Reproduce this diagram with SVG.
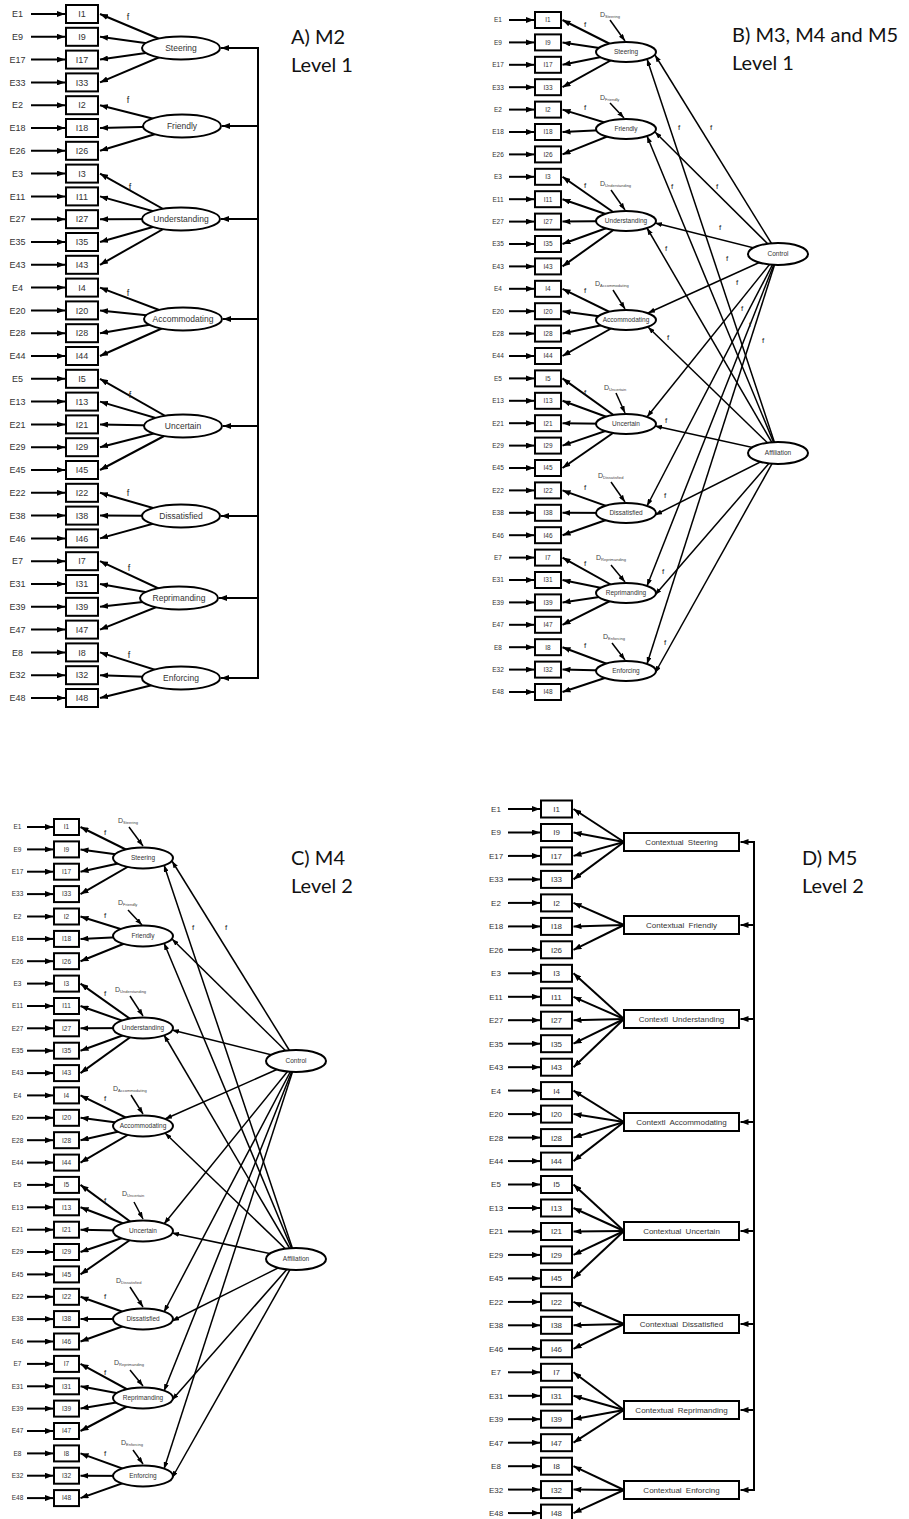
<svg xmlns="http://www.w3.org/2000/svg" width="909" height="1519" viewBox="0 0 909 1519">
<defs>
<style>
.ta{font-family:"Liberation Sans",Arial,sans-serif;font-size:9px;fill:#333;text-anchor:middle}
.tb{font-family:"Liberation Sans",Arial,sans-serif;font-size:6.5px;fill:#333;text-anchor:middle}
.td{font-family:"Liberation Sans",Arial,sans-serif;font-size:8px;fill:#333;text-anchor:middle}
.fa{font-family:"Liberation Sans",Arial,sans-serif;font-size:8.5px;fill:#333;text-anchor:middle}
.fx{font-family:"Liberation Sans",Arial,sans-serif;font-size:8px;fill:#333;text-anchor:middle;word-spacing:2px}
.fl{font-family:"Liberation Sans",Arial,sans-serif;font-size:9px;fill:#222;text-anchor:middle}
.fb{font-family:"Liberation Sans",Arial,sans-serif;font-size:8px;fill:#222;text-anchor:middle}
.dl{font-family:"Liberation Sans",Arial,sans-serif;font-size:7px;fill:#444}
.ttl{font-family:Lato,"Liberation Sans",sans-serif;font-size:20px;fill:#111}
.bx{fill:#fff;stroke:#000;stroke-width:2}
.el{fill:#fff;stroke:#000;stroke-width:2}
.ln{stroke:#000;stroke-width:2;fill:none;marker-end:url(#ah)}
.lt{stroke:#000;stroke-width:1.5;fill:none;marker-end:url(#as)}
.pl{stroke:#000;stroke-width:2;fill:none}
</style>
<marker id="ah" markerUnits="userSpaceOnUse" viewBox="0 0 8 6" markerWidth="8" markerHeight="6" refX="8" refY="3" orient="auto"><path d="M0,0L8,3L0,6z" fill="#000"/></marker>
<marker id="as" markerUnits="userSpaceOnUse" viewBox="0 0 7 5" markerWidth="7" markerHeight="5" refX="7" refY="2.5" orient="auto"><path d="M0,0L7,2.5L0,5z" fill="#000"/></marker>
<rect id="bA" class="bx" x="66" y="-9" width="32" height="18"/>
<rect id="bB" class="bx" x="535" y="-8" width="26" height="16"/>
<rect id="bC" class="bx" x="54" y="-8" width="25" height="16"/>
<rect id="bD" class="bx" x="541" y="-8.5" width="31" height="17"/>
</defs>
<rect width="909" height="1519" fill="#fff"/>

<g id="connectors">
<!-- Panel A -->
<g id="A-connectors">
<path class="ln" d="M31 14H65"/><path class="ln" d="M31 36.8H65"/><path class="ln" d="M31 59.6H65"/><path class="ln" d="M31 82.4H65"/><path class="ln" d="M31 105.2H65"/><path class="ln" d="M31 128H65"/><path class="ln" d="M31 150.8H65"/><path class="ln" d="M31 173.6H65"/><path class="ln" d="M31 196.4H65"/><path class="ln" d="M31 219.2H65"/><path class="ln" d="M31 242H65"/><path class="ln" d="M31 264.8H65"/><path class="ln" d="M31 287.6H65"/><path class="ln" d="M31 310.4H65"/><path class="ln" d="M31 333.2H65"/><path class="ln" d="M31 356H65"/><path class="ln" d="M31 378.8H65"/><path class="ln" d="M31 401.6H65"/><path class="ln" d="M31 424.4H65"/><path class="ln" d="M31 447.2H65"/><path class="ln" d="M31 470H65"/><path class="ln" d="M31 492.8H65"/><path class="ln" d="M31 515.6H65"/><path class="ln" d="M31 538.4H65"/><path class="ln" d="M31 561.2H65"/><path class="ln" d="M31 584H65"/><path class="ln" d="M31 606.8H65"/><path class="ln" d="M31 629.6H65"/><path class="ln" d="M31 652.4H65"/><path class="ln" d="M31 675.2H65"/><path class="ln" d="M31 698H65"/>
<path class="ln" d="M181 48L100 14"/><path class="ln" d="M181 48L100 36.8"/><path class="ln" d="M181 48L100 59.6"/><path class="ln" d="M181 48L100 82.4"/>
<path class="ln" d="M182 126L100 105.2"/><path class="ln" d="M182 126L100 128"/><path class="ln" d="M182 126L100 150.8"/>
<path class="ln" d="M181 219L100 173.6"/><path class="ln" d="M181 219L100 196.4"/><path class="ln" d="M181 219L100 219.2"/><path class="ln" d="M181 219L100 242"/><path class="ln" d="M181 219L100 264.8"/>
<path class="ln" d="M183 319L100 287.6"/><path class="ln" d="M183 319L100 310.4"/><path class="ln" d="M183 319L100 333.2"/><path class="ln" d="M183 319L100 356"/>
<path class="ln" d="M183 426L100 378.8"/><path class="ln" d="M183 426L100 401.6"/><path class="ln" d="M183 426L100 424.4"/><path class="ln" d="M183 426L100 447.2"/><path class="ln" d="M183 426L100 470"/>
<path class="ln" d="M181 516L100 492.8"/><path class="ln" d="M181 516L100 515.6"/><path class="ln" d="M181 516L100 538.4"/>
<path class="ln" d="M179 598L100 561.2"/><path class="ln" d="M179 598L100 584"/><path class="ln" d="M179 598L100 606.8"/><path class="ln" d="M179 598L100 629.6"/>
<path class="ln" d="M181 678L100 652.4"/><path class="ln" d="M181 678L100 675.2"/><path class="ln" d="M181 678L100 698"/>
<path class="pl" d="M258 47V679"/>
<path class="ln" d="M258 48H221"/><path class="ln" d="M258 126H222"/><path class="ln" d="M258 219H221"/><path class="ln" d="M258 319H223"/><path class="ln" d="M258 426H223"/><path class="ln" d="M258 516H221"/><path class="ln" d="M258 598H219"/><path class="ln" d="M258 678H221"/>
</g>
<!-- Panel B -->
<g id="B-connectors">
<path class="ln" d="M509 20H534"/><path class="ln" d="M509 42.4H534"/><path class="ln" d="M509 64.8H534"/><path class="ln" d="M509 87.2H534"/><path class="ln" d="M509 109.6H534"/><path class="ln" d="M509 132H534"/><path class="ln" d="M509 154.4H534"/><path class="ln" d="M509 176.8H534"/><path class="ln" d="M509 199.2H534"/><path class="ln" d="M509 221.6H534"/><path class="ln" d="M509 244H534"/><path class="ln" d="M509 266.4H534"/><path class="ln" d="M509 288.8H534"/><path class="ln" d="M509 311.2H534"/><path class="ln" d="M509 333.6H534"/><path class="ln" d="M509 356H534"/><path class="ln" d="M509 378.4H534"/><path class="ln" d="M509 400.8H534"/><path class="ln" d="M509 423.2H534"/><path class="ln" d="M509 445.6H534"/><path class="ln" d="M509 468H534"/><path class="ln" d="M509 490.4H534"/><path class="ln" d="M509 512.8H534"/><path class="ln" d="M509 535.2H534"/><path class="ln" d="M509 557.6H534"/><path class="ln" d="M509 580H534"/><path class="ln" d="M509 602.4H534"/><path class="ln" d="M509 624.8H534"/><path class="ln" d="M509 647.2H534"/><path class="ln" d="M509 669.6H534"/><path class="ln" d="M509 692H534"/>
<path class="ln" d="M626 52L562.5 20"/><path class="ln" d="M626 52L562.5 42.4"/><path class="ln" d="M626 52L562.5 64.8"/><path class="ln" d="M626 52L562.5 87.2"/>
<path class="ln" d="M626 129L562.5 109.6"/><path class="ln" d="M626 129L562.5 132"/><path class="ln" d="M626 129L562.5 154.4"/>
<path class="ln" d="M626 221L562.5 176.8"/><path class="ln" d="M626 221L562.5 199.2"/><path class="ln" d="M626 221L562.5 221.6"/><path class="ln" d="M626 221L562.5 244"/><path class="ln" d="M626 221L562.5 266.4"/>
<path class="ln" d="M626 320L562.5 288.8"/><path class="ln" d="M626 320L562.5 311.2"/><path class="ln" d="M626 320L562.5 333.6"/><path class="ln" d="M626 320L562.5 356"/>
<path class="ln" d="M626 424L562.5 378.4"/><path class="ln" d="M626 424L562.5 400.8"/><path class="ln" d="M626 424L562.5 423.2"/><path class="ln" d="M626 424L562.5 445.6"/><path class="ln" d="M626 424L562.5 468"/>
<path class="ln" d="M626 513L562.5 490.4"/><path class="ln" d="M626 513L562.5 512.8"/><path class="ln" d="M626 513L562.5 535.2"/>
<path class="ln" d="M626 593L562.5 557.6"/><path class="ln" d="M626 593L562.5 580"/><path class="ln" d="M626 593L562.5 602.4"/><path class="ln" d="M626 593L562.5 624.8"/>
<path class="ln" d="M626 671L562.5 647.2"/><path class="ln" d="M626 671L562.5 669.6"/><path class="ln" d="M626 671L562.5 692"/>
<path class="lt" d="M778 254L655 55"/><path class="lt" d="M778 254L655 132"/><path class="lt" d="M778 254L655 223"/><path class="lt" d="M778 254L648 313"/><path class="lt" d="M778 254L647 417"/><path class="lt" d="M778 254L647 506"/><path class="lt" d="M778 254L647 586"/><path class="lt" d="M778 254L647 664"/>
<path class="lt" d="M778 453L647 59"/><path class="lt" d="M778 453L647 136"/><path class="lt" d="M778 453L647 228"/><path class="lt" d="M778 453L648 327"/><path class="lt" d="M778 453L655 426"/><path class="lt" d="M778 453L655 515"/><path class="lt" d="M778 453L655 595"/><path class="lt" d="M778 453L655 673"/>
<path class="lt" d="M610 20L625 41"/><path class="lt" d="M610 103L624 118"/><path class="lt" d="M611 190L625 210"/><path class="lt" d="M613 290L625 309"/><path class="lt" d="M616 393L625 413"/><path class="lt" d="M611 482L625 502"/><path class="lt" d="M611 565L625 582"/><path class="lt" d="M612 643L625 660"/>
</g>
<!-- Panel C -->
<g id="C-connectors">
<path class="ln" d="M27 827H53"/><path class="ln" d="M27 849.4H53"/><path class="ln" d="M27 871.7H53"/><path class="ln" d="M27 894.1H53"/><path class="ln" d="M27 916.5H53"/><path class="ln" d="M27 938.9H53"/><path class="ln" d="M27 961.2H53"/><path class="ln" d="M27 983.6H53"/><path class="ln" d="M27 1006H53"/><path class="ln" d="M27 1028.3H53"/><path class="ln" d="M27 1050.7H53"/><path class="ln" d="M27 1073.1H53"/><path class="ln" d="M27 1095.4H53"/><path class="ln" d="M27 1117.8H53"/><path class="ln" d="M27 1140.2H53"/><path class="ln" d="M27 1162.6H53"/><path class="ln" d="M27 1184.9H53"/><path class="ln" d="M27 1207.3H53"/><path class="ln" d="M27 1229.7H53"/><path class="ln" d="M27 1252H53"/><path class="ln" d="M27 1274.4H53"/><path class="ln" d="M27 1296.8H53"/><path class="ln" d="M27 1319.1H53"/><path class="ln" d="M27 1341.5H53"/><path class="ln" d="M27 1363.9H53"/><path class="ln" d="M27 1386.3H53"/><path class="ln" d="M27 1408.6H53"/><path class="ln" d="M27 1431H53"/><path class="ln" d="M27 1453.4H53"/><path class="ln" d="M27 1475.7H53"/><path class="ln" d="M27 1498.1H53"/>
<path class="ln" d="M143 858L80.5 827"/><path class="ln" d="M143 858L80.5 849.4"/><path class="ln" d="M143 858L80.5 871.7"/><path class="ln" d="M143 858L80.5 894.1"/>
<path class="ln" d="M143 936L80.5 916.5"/><path class="ln" d="M143 936L80.5 938.9"/><path class="ln" d="M143 936L80.5 961.2"/>
<path class="ln" d="M143 1028L80.5 983.6"/><path class="ln" d="M143 1028L80.5 1006"/><path class="ln" d="M143 1028L80.5 1028.3"/><path class="ln" d="M143 1028L80.5 1050.7"/><path class="ln" d="M143 1028L80.5 1073.1"/>
<path class="ln" d="M143 1126L80.5 1095.4"/><path class="ln" d="M143 1126L80.5 1117.8"/><path class="ln" d="M143 1126L80.5 1140.2"/><path class="ln" d="M143 1126L80.5 1162.6"/>
<path class="ln" d="M143 1231L80.5 1184.9"/><path class="ln" d="M143 1231L80.5 1207.3"/><path class="ln" d="M143 1231L80.5 1229.7"/><path class="ln" d="M143 1231L80.5 1252"/><path class="ln" d="M143 1231L80.5 1274.4"/>
<path class="ln" d="M143 1319L80.5 1296.8"/><path class="ln" d="M143 1319L80.5 1319.1"/><path class="ln" d="M143 1319L80.5 1341.5"/>
<path class="ln" d="M143 1398L80.5 1363.9"/><path class="ln" d="M143 1398L80.5 1386.3"/><path class="ln" d="M143 1398L80.5 1408.6"/><path class="ln" d="M143 1398L80.5 1431"/>
<path class="ln" d="M143 1476L80.5 1453.4"/><path class="ln" d="M143 1476L80.5 1475.7"/><path class="ln" d="M143 1476L80.5 1498.1"/>
<path class="lt" d="M296 1061L172 861"/><path class="lt" d="M296 1061L172 939"/><path class="lt" d="M296 1061L172 1030"/><path class="lt" d="M296 1061L165 1119"/><path class="lt" d="M296 1061L164 1224"/><path class="lt" d="M296 1061L164 1312"/><path class="lt" d="M296 1061L164 1391"/><path class="lt" d="M296 1061L164 1469"/>
<path class="lt" d="M296 1259L164 865"/><path class="lt" d="M296 1259L164 943"/><path class="lt" d="M296 1259L164 1035"/><path class="lt" d="M296 1259L165 1133"/><path class="lt" d="M296 1259L172 1233"/><path class="lt" d="M296 1259L172 1321"/><path class="lt" d="M296 1259L172 1400"/><path class="lt" d="M296 1259L172 1478"/>
<path class="lt" d="M129 827L143 846"/><path class="lt" d="M128 910L142 925"/><path class="lt" d="M130 996L143 1016"/><path class="lt" d="M131 1095L143 1114"/><path class="lt" d="M134 1202L143 1219"/><path class="lt" d="M130 1287L143 1307"/><path class="lt" d="M130 1370L143 1386"/><path class="lt" d="M133 1450L143 1464"/>
</g>
<!-- Panel D -->
<g id="D-connectors">
<path class="ln" d="M508 809H540"/><path class="ln" d="M508 832.5H540"/><path class="ln" d="M508 855.9H540"/><path class="ln" d="M508 879.4H540"/><path class="ln" d="M508 902.9H540"/><path class="ln" d="M508 926.4H540"/><path class="ln" d="M508 949.8H540"/><path class="ln" d="M508 973.3H540"/><path class="ln" d="M508 996.8H540"/><path class="ln" d="M508 1020.2H540"/><path class="ln" d="M508 1043.7H540"/><path class="ln" d="M508 1067.2H540"/><path class="ln" d="M508 1090.6H540"/><path class="ln" d="M508 1114.1H540"/><path class="ln" d="M508 1137.6H540"/><path class="ln" d="M508 1161.1H540"/><path class="ln" d="M508 1184.5H540"/><path class="ln" d="M508 1208H540"/><path class="ln" d="M508 1231.5H540"/><path class="ln" d="M508 1254.9H540"/><path class="ln" d="M508 1278.4H540"/><path class="ln" d="M508 1301.9H540"/><path class="ln" d="M508 1325.3H540"/><path class="ln" d="M508 1348.8H540"/><path class="ln" d="M508 1372.3H540"/><path class="ln" d="M508 1395.8H540"/><path class="ln" d="M508 1419.2H540"/><path class="ln" d="M508 1442.7H540"/><path class="ln" d="M508 1466.2H540"/><path class="ln" d="M508 1489.6H540"/><path class="ln" d="M508 1513.1H540"/>
<path class="ln" d="M624 842L573.5 809"/><path class="ln" d="M624 842L573.5 832.5"/><path class="ln" d="M624 842L573.5 855.9"/><path class="ln" d="M624 842L573.5 879.4"/>
<path class="ln" d="M624 925L573.5 902.9"/><path class="ln" d="M624 925L573.5 926.4"/><path class="ln" d="M624 925L573.5 949.8"/>
<path class="ln" d="M624 1019L573.5 973.3"/><path class="ln" d="M624 1019L573.5 996.8"/><path class="ln" d="M624 1019L573.5 1020.2"/><path class="ln" d="M624 1019L573.5 1043.7"/><path class="ln" d="M624 1019L573.5 1067.2"/>
<path class="ln" d="M624 1122L573.5 1090.6"/><path class="ln" d="M624 1122L573.5 1114.1"/><path class="ln" d="M624 1122L573.5 1137.6"/><path class="ln" d="M624 1122L573.5 1161.1"/>
<path class="ln" d="M624 1231L573.5 1184.5"/><path class="ln" d="M624 1231L573.5 1208"/><path class="ln" d="M624 1231L573.5 1231.5"/><path class="ln" d="M624 1231L573.5 1254.9"/><path class="ln" d="M624 1231L573.5 1278.4"/>
<path class="ln" d="M624 1324L573.5 1301.9"/><path class="ln" d="M624 1324L573.5 1325.3"/><path class="ln" d="M624 1324L573.5 1348.8"/>
<path class="ln" d="M624 1410L573.5 1372.3"/><path class="ln" d="M624 1410L573.5 1395.8"/><path class="ln" d="M624 1410L573.5 1419.2"/><path class="ln" d="M624 1410L573.5 1442.7"/>
<path class="ln" d="M624 1490L573.5 1466.2"/><path class="ln" d="M624 1490L573.5 1489.6"/><path class="ln" d="M624 1490L573.5 1513.1"/>
<path class="pl" d="M754 841V1491"/>
<path class="ln" d="M754 842H740.5"/><path class="ln" d="M754 925H740.5"/><path class="ln" d="M754 1019H740.5"/><path class="ln" d="M754 1122H740.5"/><path class="ln" d="M754 1231H740.5"/><path class="ln" d="M754 1324H740.5"/><path class="ln" d="M754 1410H740.5"/><path class="ln" d="M754 1490H740.5"/>
</g>
</g>

<!-- Panel A nodes -->
<g id="panel-A">
<g id="A-r1" transform="translate(0,14)"><text class="ta" x="17.5" y="3.2">E1</text><use href="#bA"/><text class="ta" x="82" y="3.2">I1</text></g>
<g id="A-r9" transform="translate(0,36.8)"><text class="ta" x="17.5" y="3.2">E9</text><use href="#bA"/><text class="ta" x="82" y="3.2">I9</text></g>
<g id="A-r17" transform="translate(0,59.6)"><text class="ta" x="17.5" y="3.2">E17</text><use href="#bA"/><text class="ta" x="82" y="3.2">I17</text></g>
<g id="A-r33" transform="translate(0,82.4)"><text class="ta" x="17.5" y="3.2">E33</text><use href="#bA"/><text class="ta" x="82" y="3.2">I33</text></g>
<g id="A-r2" transform="translate(0,105.2)"><text class="ta" x="17.5" y="3.2">E2</text><use href="#bA"/><text class="ta" x="82" y="3.2">I2</text></g>
<g id="A-r18" transform="translate(0,128)"><text class="ta" x="17.5" y="3.2">E18</text><use href="#bA"/><text class="ta" x="82" y="3.2">I18</text></g>
<g id="A-r26" transform="translate(0,150.8)"><text class="ta" x="17.5" y="3.2">E26</text><use href="#bA"/><text class="ta" x="82" y="3.2">I26</text></g>
<g id="A-r3" transform="translate(0,173.6)"><text class="ta" x="17.5" y="3.2">E3</text><use href="#bA"/><text class="ta" x="82" y="3.2">I3</text></g>
<g id="A-r11" transform="translate(0,196.4)"><text class="ta" x="17.5" y="3.2">E11</text><use href="#bA"/><text class="ta" x="82" y="3.2">I11</text></g>
<g id="A-r27" transform="translate(0,219.2)"><text class="ta" x="17.5" y="3.2">E27</text><use href="#bA"/><text class="ta" x="82" y="3.2">I27</text></g>
<g id="A-r35" transform="translate(0,242)"><text class="ta" x="17.5" y="3.2">E35</text><use href="#bA"/><text class="ta" x="82" y="3.2">I35</text></g>
<g id="A-r43" transform="translate(0,264.8)"><text class="ta" x="17.5" y="3.2">E43</text><use href="#bA"/><text class="ta" x="82" y="3.2">I43</text></g>
<g id="A-r4" transform="translate(0,287.6)"><text class="ta" x="17.5" y="3.2">E4</text><use href="#bA"/><text class="ta" x="82" y="3.2">I4</text></g>
<g id="A-r20" transform="translate(0,310.4)"><text class="ta" x="17.5" y="3.2">E20</text><use href="#bA"/><text class="ta" x="82" y="3.2">I20</text></g>
<g id="A-r28" transform="translate(0,333.2)"><text class="ta" x="17.5" y="3.2">E28</text><use href="#bA"/><text class="ta" x="82" y="3.2">I28</text></g>
<g id="A-r44" transform="translate(0,356)"><text class="ta" x="17.5" y="3.2">E44</text><use href="#bA"/><text class="ta" x="82" y="3.2">I44</text></g>
<g id="A-r5" transform="translate(0,378.8)"><text class="ta" x="17.5" y="3.2">E5</text><use href="#bA"/><text class="ta" x="82" y="3.2">I5</text></g>
<g id="A-r13" transform="translate(0,401.6)"><text class="ta" x="17.5" y="3.2">E13</text><use href="#bA"/><text class="ta" x="82" y="3.2">I13</text></g>
<g id="A-r21" transform="translate(0,424.4)"><text class="ta" x="17.5" y="3.2">E21</text><use href="#bA"/><text class="ta" x="82" y="3.2">I21</text></g>
<g id="A-r29" transform="translate(0,447.2)"><text class="ta" x="17.5" y="3.2">E29</text><use href="#bA"/><text class="ta" x="82" y="3.2">I29</text></g>
<g id="A-r45" transform="translate(0,470)"><text class="ta" x="17.5" y="3.2">E45</text><use href="#bA"/><text class="ta" x="82" y="3.2">I45</text></g>
<g id="A-r22" transform="translate(0,492.8)"><text class="ta" x="17.5" y="3.2">E22</text><use href="#bA"/><text class="ta" x="82" y="3.2">I22</text></g>
<g id="A-r38" transform="translate(0,515.6)"><text class="ta" x="17.5" y="3.2">E38</text><use href="#bA"/><text class="ta" x="82" y="3.2">I38</text></g>
<g id="A-r46" transform="translate(0,538.4)"><text class="ta" x="17.5" y="3.2">E46</text><use href="#bA"/><text class="ta" x="82" y="3.2">I46</text></g>
<g id="A-r7" transform="translate(0,561.2)"><text class="ta" x="17.5" y="3.2">E7</text><use href="#bA"/><text class="ta" x="82" y="3.2">I7</text></g>
<g id="A-r31" transform="translate(0,584)"><text class="ta" x="17.5" y="3.2">E31</text><use href="#bA"/><text class="ta" x="82" y="3.2">I31</text></g>
<g id="A-r39" transform="translate(0,606.8)"><text class="ta" x="17.5" y="3.2">E39</text><use href="#bA"/><text class="ta" x="82" y="3.2">I39</text></g>
<g id="A-r47" transform="translate(0,629.6)"><text class="ta" x="17.5" y="3.2">E47</text><use href="#bA"/><text class="ta" x="82" y="3.2">I47</text></g>
<g id="A-r8" transform="translate(0,652.4)"><text class="ta" x="17.5" y="3.2">E8</text><use href="#bA"/><text class="ta" x="82" y="3.2">I8</text></g>
<g id="A-r32" transform="translate(0,675.2)"><text class="ta" x="17.5" y="3.2">E32</text><use href="#bA"/><text class="ta" x="82" y="3.2">I32</text></g>
<g id="A-r48" transform="translate(0,698)"><text class="ta" x="17.5" y="3.2">E48</text><use href="#bA"/><text class="ta" x="82" y="3.2">I48</text></g>
<g id="A-Steering"><ellipse class="el" cx="181" cy="48" rx="39" ry="11.5"/><text class="fa" x="181" y="51">Steering</text></g>
<g id="A-Friendly"><ellipse class="el" cx="182" cy="126" rx="39" ry="11.5"/><text class="fa" x="182" y="129">Friendly</text></g>
<g id="A-Understanding"><ellipse class="el" cx="181" cy="219" rx="39" ry="11.5"/><text class="fa" x="181" y="222">Understanding</text></g>
<g id="A-Accommodating"><ellipse class="el" cx="183" cy="319" rx="39" ry="11.5"/><text class="fa" x="183" y="322">Accommodating</text></g>
<g id="A-Uncertain"><ellipse class="el" cx="183" cy="426" rx="39" ry="11.5"/><text class="fa" x="183" y="429">Uncertain</text></g>
<g id="A-Dissatisfied"><ellipse class="el" cx="181" cy="516" rx="39" ry="11.5"/><text class="fa" x="181" y="519">Dissatisfied</text></g>
<g id="A-Reprimanding"><ellipse class="el" cx="179" cy="598" rx="39" ry="11.5"/><text class="fa" x="179" y="601">Reprimanding</text></g>
<g id="A-Enforcing"><ellipse class="el" cx="181" cy="678" rx="39" ry="11.5"/><text class="fa" x="181" y="681">Enforcing</text></g>
<g id="A-flabels">
<text class="fl" x="128" y="20">f</text><text class="fl" x="128" y="103">f</text><text class="fl" x="130" y="190">f</text><text class="fl" x="128" y="296">f</text><text class="fl" x="130" y="398">f</text><text class="fl" x="128" y="496">f</text><text class="fl" x="129" y="571">f</text><text class="fl" x="129" y="658">f</text>
</g>
<g id="A-title"><text class="ttl" x="291" y="44">A) M2</text><text class="ttl" x="291" y="72">Level 1</text></g>
</g>

<!-- Panel B nodes -->
<g id="panel-B">
<g id="B-r1" transform="translate(0,20)"><text class="tb" x="498" y="2.3">E1</text><use href="#bB"/><text class="tb" x="548" y="2.3">I1</text></g>
<g id="B-r9" transform="translate(0,42.4)"><text class="tb" x="498" y="2.3">E9</text><use href="#bB"/><text class="tb" x="548" y="2.3">I9</text></g>
<g id="B-r17" transform="translate(0,64.8)"><text class="tb" x="498" y="2.3">E17</text><use href="#bB"/><text class="tb" x="548" y="2.3">I17</text></g>
<g id="B-r33" transform="translate(0,87.2)"><text class="tb" x="498" y="2.3">E33</text><use href="#bB"/><text class="tb" x="548" y="2.3">I33</text></g>
<g id="B-r2" transform="translate(0,109.6)"><text class="tb" x="498" y="2.3">E2</text><use href="#bB"/><text class="tb" x="548" y="2.3">I2</text></g>
<g id="B-r18" transform="translate(0,132)"><text class="tb" x="498" y="2.3">E18</text><use href="#bB"/><text class="tb" x="548" y="2.3">I18</text></g>
<g id="B-r26" transform="translate(0,154.4)"><text class="tb" x="498" y="2.3">E26</text><use href="#bB"/><text class="tb" x="548" y="2.3">I26</text></g>
<g id="B-r3" transform="translate(0,176.8)"><text class="tb" x="498" y="2.3">E3</text><use href="#bB"/><text class="tb" x="548" y="2.3">I3</text></g>
<g id="B-r11" transform="translate(0,199.2)"><text class="tb" x="498" y="2.3">E11</text><use href="#bB"/><text class="tb" x="548" y="2.3">I11</text></g>
<g id="B-r27" transform="translate(0,221.6)"><text class="tb" x="498" y="2.3">E27</text><use href="#bB"/><text class="tb" x="548" y="2.3">I27</text></g>
<g id="B-r35" transform="translate(0,244)"><text class="tb" x="498" y="2.3">E35</text><use href="#bB"/><text class="tb" x="548" y="2.3">I35</text></g>
<g id="B-r43" transform="translate(0,266.4)"><text class="tb" x="498" y="2.3">E43</text><use href="#bB"/><text class="tb" x="548" y="2.3">I43</text></g>
<g id="B-r4" transform="translate(0,288.8)"><text class="tb" x="498" y="2.3">E4</text><use href="#bB"/><text class="tb" x="548" y="2.3">I4</text></g>
<g id="B-r20" transform="translate(0,311.2)"><text class="tb" x="498" y="2.3">E20</text><use href="#bB"/><text class="tb" x="548" y="2.3">I20</text></g>
<g id="B-r28" transform="translate(0,333.6)"><text class="tb" x="498" y="2.3">E28</text><use href="#bB"/><text class="tb" x="548" y="2.3">I28</text></g>
<g id="B-r44" transform="translate(0,356)"><text class="tb" x="498" y="2.3">E44</text><use href="#bB"/><text class="tb" x="548" y="2.3">I44</text></g>
<g id="B-r5" transform="translate(0,378.4)"><text class="tb" x="498" y="2.3">E5</text><use href="#bB"/><text class="tb" x="548" y="2.3">I5</text></g>
<g id="B-r13" transform="translate(0,400.8)"><text class="tb" x="498" y="2.3">E13</text><use href="#bB"/><text class="tb" x="548" y="2.3">I13</text></g>
<g id="B-r21" transform="translate(0,423.2)"><text class="tb" x="498" y="2.3">E21</text><use href="#bB"/><text class="tb" x="548" y="2.3">I21</text></g>
<g id="B-r29" transform="translate(0,445.6)"><text class="tb" x="498" y="2.3">E29</text><use href="#bB"/><text class="tb" x="548" y="2.3">I29</text></g>
<g id="B-r45" transform="translate(0,468)"><text class="tb" x="498" y="2.3">E45</text><use href="#bB"/><text class="tb" x="548" y="2.3">I45</text></g>
<g id="B-r22" transform="translate(0,490.4)"><text class="tb" x="498" y="2.3">E22</text><use href="#bB"/><text class="tb" x="548" y="2.3">I22</text></g>
<g id="B-r38" transform="translate(0,512.8)"><text class="tb" x="498" y="2.3">E38</text><use href="#bB"/><text class="tb" x="548" y="2.3">I38</text></g>
<g id="B-r46" transform="translate(0,535.2)"><text class="tb" x="498" y="2.3">E46</text><use href="#bB"/><text class="tb" x="548" y="2.3">I46</text></g>
<g id="B-r7" transform="translate(0,557.6)"><text class="tb" x="498" y="2.3">E7</text><use href="#bB"/><text class="tb" x="548" y="2.3">I7</text></g>
<g id="B-r31" transform="translate(0,580)"><text class="tb" x="498" y="2.3">E31</text><use href="#bB"/><text class="tb" x="548" y="2.3">I31</text></g>
<g id="B-r39" transform="translate(0,602.4)"><text class="tb" x="498" y="2.3">E39</text><use href="#bB"/><text class="tb" x="548" y="2.3">I39</text></g>
<g id="B-r47" transform="translate(0,624.8)"><text class="tb" x="498" y="2.3">E47</text><use href="#bB"/><text class="tb" x="548" y="2.3">I47</text></g>
<g id="B-r8" transform="translate(0,647.2)"><text class="tb" x="498" y="2.3">E8</text><use href="#bB"/><text class="tb" x="548" y="2.3">I8</text></g>
<g id="B-r32" transform="translate(0,669.6)"><text class="tb" x="498" y="2.3">E32</text><use href="#bB"/><text class="tb" x="548" y="2.3">I32</text></g>
<g id="B-r48" transform="translate(0,692)"><text class="tb" x="498" y="2.3">E48</text><use href="#bB"/><text class="tb" x="548" y="2.3">I48</text></g>
<g id="B-Steering"><ellipse class="el" cx="626" cy="52" rx="30" ry="10"/><text class="tb" x="626" y="54.3">Steering</text></g>
<g id="B-Friendly"><ellipse class="el" cx="626" cy="129" rx="30" ry="10"/><text class="tb" x="626" y="131.3">Friendly</text></g>
<g id="B-Understanding"><ellipse class="el" cx="626" cy="221" rx="30" ry="10"/><text class="tb" x="626" y="223.3">Understanding</text></g>
<g id="B-Accommodating"><ellipse class="el" cx="626" cy="320" rx="30" ry="10"/><text class="tb" x="626" y="322.3">Accommodating</text></g>
<g id="B-Uncertain"><ellipse class="el" cx="626" cy="424" rx="30" ry="10"/><text class="tb" x="626" y="426.3">Uncertain</text></g>
<g id="B-Dissatisfied"><ellipse class="el" cx="626" cy="513" rx="30" ry="10"/><text class="tb" x="626" y="515.3">Dissatisfied</text></g>
<g id="B-Reprimanding"><ellipse class="el" cx="626" cy="593" rx="30" ry="10"/><text class="tb" x="626" y="595.3">Reprimanding</text></g>
<g id="B-Enforcing"><ellipse class="el" cx="626" cy="671" rx="30" ry="10"/><text class="tb" x="626" y="673.3">Enforcing</text></g>
<g id="B-Control"><ellipse class="el" cx="778" cy="254" rx="30" ry="11"/><text class="tb" x="778" y="256.3">Control</text></g>
<g id="B-Affiliation"><ellipse class="el" cx="778" cy="453" rx="30" ry="11"/><text class="tb" x="778" y="455.3">Affiliation</text></g>
<g id="B-Dlabels">
<text class="dl" x="600" y="16.5">D<tspan font-size="4" dy="1.5">Steering</tspan></text>
<text class="dl" x="600" y="99.5">D<tspan font-size="4" dy="1.5">Friendly</tspan></text>
<text class="dl" x="600" y="185.5">D<tspan font-size="4" dy="1.5">Understanding</tspan></text>
<text class="dl" x="595" y="285.5">D<tspan font-size="4" dy="1.5">Accommodating</tspan></text>
<text class="dl" x="604" y="389.5">D<tspan font-size="4" dy="1.5">Uncertain</tspan></text>
<text class="dl" x="598" y="477.5">D<tspan font-size="4" dy="1.5">Dissatisfied</tspan></text>
<text class="dl" x="596" y="559.5">D<tspan font-size="4" dy="1.5">Reprimanding</tspan></text>
<text class="dl" x="603" y="638.5">D<tspan font-size="4" dy="1.5">Enforcing</tspan></text>
</g>
<g id="B-flabels">
<text class="fb" x="585" y="27">f</text><text class="fb" x="585" y="110">f</text><text class="fb" x="585" y="188">f</text><text class="fb" x="585" y="293">f</text><text class="fb" x="585" y="395">f</text><text class="fb" x="585" y="490">f</text><text class="fb" x="585" y="566">f</text><text class="fb" x="585" y="648">f</text>
<text class="fb" x="679" y="130">f</text><text class="fb" x="711" y="130">f</text><text class="fb" x="672" y="189">f</text><text class="fb" x="717" y="189">f</text><text class="fb" x="720" y="230">f</text><text class="fb" x="666" y="251">f</text><text class="fb" x="727" y="261">f</text><text class="fb" x="737" y="285">f</text><text class="fb" x="742" y="311">f</text><text class="fb" x="750" y="327">f</text><text class="fb" x="763" y="343">f</text><text class="fb" x="668" y="340">f</text><text class="fb" x="666" y="423">f</text><text class="fb" x="665" y="498">f</text><text class="fb" x="663" y="574">f</text><text class="fb" x="665" y="645">f</text>
</g>
<g id="B-title"><text class="ttl" x="732" y="42">B) M3, M4 and M5</text><text class="ttl" x="732" y="70">Level 1</text></g>
</g>

<!-- Panel C nodes -->
<g id="panel-C">
<g id="C-r1" transform="translate(0,827)"><text class="tb" x="17.5" y="2.3">E1</text><use href="#bC"/><text class="tb" x="66.5" y="2.3">I1</text></g>
<g id="C-r9" transform="translate(0,849.4)"><text class="tb" x="17.5" y="2.3">E9</text><use href="#bC"/><text class="tb" x="66.5" y="2.3">I9</text></g>
<g id="C-r17" transform="translate(0,871.7)"><text class="tb" x="17.5" y="2.3">E17</text><use href="#bC"/><text class="tb" x="66.5" y="2.3">I17</text></g>
<g id="C-r33" transform="translate(0,894.1)"><text class="tb" x="17.5" y="2.3">E33</text><use href="#bC"/><text class="tb" x="66.5" y="2.3">I33</text></g>
<g id="C-r2" transform="translate(0,916.5)"><text class="tb" x="17.5" y="2.3">E2</text><use href="#bC"/><text class="tb" x="66.5" y="2.3">I2</text></g>
<g id="C-r18" transform="translate(0,938.9)"><text class="tb" x="17.5" y="2.3">E18</text><use href="#bC"/><text class="tb" x="66.5" y="2.3">I18</text></g>
<g id="C-r26" transform="translate(0,961.2)"><text class="tb" x="17.5" y="2.3">E26</text><use href="#bC"/><text class="tb" x="66.5" y="2.3">I26</text></g>
<g id="C-r3" transform="translate(0,983.6)"><text class="tb" x="17.5" y="2.3">E3</text><use href="#bC"/><text class="tb" x="66.5" y="2.3">I3</text></g>
<g id="C-r11" transform="translate(0,1006)"><text class="tb" x="17.5" y="2.3">E11</text><use href="#bC"/><text class="tb" x="66.5" y="2.3">I11</text></g>
<g id="C-r27" transform="translate(0,1028.3)"><text class="tb" x="17.5" y="2.3">E27</text><use href="#bC"/><text class="tb" x="66.5" y="2.3">I27</text></g>
<g id="C-r35" transform="translate(0,1050.7)"><text class="tb" x="17.5" y="2.3">E35</text><use href="#bC"/><text class="tb" x="66.5" y="2.3">I35</text></g>
<g id="C-r43" transform="translate(0,1073.1)"><text class="tb" x="17.5" y="2.3">E43</text><use href="#bC"/><text class="tb" x="66.5" y="2.3">I43</text></g>
<g id="C-r4" transform="translate(0,1095.4)"><text class="tb" x="17.5" y="2.3">E4</text><use href="#bC"/><text class="tb" x="66.5" y="2.3">I4</text></g>
<g id="C-r20" transform="translate(0,1117.8)"><text class="tb" x="17.5" y="2.3">E20</text><use href="#bC"/><text class="tb" x="66.5" y="2.3">I20</text></g>
<g id="C-r28" transform="translate(0,1140.2)"><text class="tb" x="17.5" y="2.3">E28</text><use href="#bC"/><text class="tb" x="66.5" y="2.3">I28</text></g>
<g id="C-r44" transform="translate(0,1162.6)"><text class="tb" x="17.5" y="2.3">E44</text><use href="#bC"/><text class="tb" x="66.5" y="2.3">I44</text></g>
<g id="C-r5" transform="translate(0,1184.9)"><text class="tb" x="17.5" y="2.3">E5</text><use href="#bC"/><text class="tb" x="66.5" y="2.3">I5</text></g>
<g id="C-r13" transform="translate(0,1207.3)"><text class="tb" x="17.5" y="2.3">E13</text><use href="#bC"/><text class="tb" x="66.5" y="2.3">I13</text></g>
<g id="C-r21" transform="translate(0,1229.7)"><text class="tb" x="17.5" y="2.3">E21</text><use href="#bC"/><text class="tb" x="66.5" y="2.3">I21</text></g>
<g id="C-r29" transform="translate(0,1252)"><text class="tb" x="17.5" y="2.3">E29</text><use href="#bC"/><text class="tb" x="66.5" y="2.3">I29</text></g>
<g id="C-r45" transform="translate(0,1274.4)"><text class="tb" x="17.5" y="2.3">E45</text><use href="#bC"/><text class="tb" x="66.5" y="2.3">I45</text></g>
<g id="C-r22" transform="translate(0,1296.8)"><text class="tb" x="17.5" y="2.3">E22</text><use href="#bC"/><text class="tb" x="66.5" y="2.3">I22</text></g>
<g id="C-r38" transform="translate(0,1319.1)"><text class="tb" x="17.5" y="2.3">E38</text><use href="#bC"/><text class="tb" x="66.5" y="2.3">I38</text></g>
<g id="C-r46" transform="translate(0,1341.5)"><text class="tb" x="17.5" y="2.3">E46</text><use href="#bC"/><text class="tb" x="66.5" y="2.3">I46</text></g>
<g id="C-r7" transform="translate(0,1363.9)"><text class="tb" x="17.5" y="2.3">E7</text><use href="#bC"/><text class="tb" x="66.5" y="2.3">I7</text></g>
<g id="C-r31" transform="translate(0,1386.3)"><text class="tb" x="17.5" y="2.3">E31</text><use href="#bC"/><text class="tb" x="66.5" y="2.3">I31</text></g>
<g id="C-r39" transform="translate(0,1408.6)"><text class="tb" x="17.5" y="2.3">E39</text><use href="#bC"/><text class="tb" x="66.5" y="2.3">I39</text></g>
<g id="C-r47" transform="translate(0,1431)"><text class="tb" x="17.5" y="2.3">E47</text><use href="#bC"/><text class="tb" x="66.5" y="2.3">I47</text></g>
<g id="C-r8" transform="translate(0,1453.4)"><text class="tb" x="17.5" y="2.3">E8</text><use href="#bC"/><text class="tb" x="66.5" y="2.3">I8</text></g>
<g id="C-r32" transform="translate(0,1475.7)"><text class="tb" x="17.5" y="2.3">E32</text><use href="#bC"/><text class="tb" x="66.5" y="2.3">I32</text></g>
<g id="C-r48" transform="translate(0,1498.1)"><text class="tb" x="17.5" y="2.3">E48</text><use href="#bC"/><text class="tb" x="66.5" y="2.3">I48</text></g>
<g id="C-Steering"><ellipse class="el" cx="143" cy="858" rx="30" ry="10.5"/><text class="tb" x="143" y="860.3">Steering</text></g>
<g id="C-Friendly"><ellipse class="el" cx="143" cy="936" rx="30" ry="10.5"/><text class="tb" x="143" y="938.3">Friendly</text></g>
<g id="C-Understanding"><ellipse class="el" cx="143" cy="1028" rx="30" ry="10.5"/><text class="tb" x="143" y="1030.3">Understanding</text></g>
<g id="C-Accommodating"><ellipse class="el" cx="143" cy="1126" rx="30" ry="10.5"/><text class="tb" x="143" y="1128.3">Accommodating</text></g>
<g id="C-Uncertain"><ellipse class="el" cx="143" cy="1231" rx="30" ry="10.5"/><text class="tb" x="143" y="1233.3">Uncertain</text></g>
<g id="C-Dissatisfied"><ellipse class="el" cx="143" cy="1319" rx="30" ry="10.5"/><text class="tb" x="143" y="1321.3">Dissatisfied</text></g>
<g id="C-Reprimanding"><ellipse class="el" cx="143" cy="1398" rx="30" ry="10.5"/><text class="tb" x="143" y="1400.3">Reprimanding</text></g>
<g id="C-Enforcing"><ellipse class="el" cx="143" cy="1476" rx="30" ry="10.5"/><text class="tb" x="143" y="1478.3">Enforcing</text></g>
<g id="C-Control"><ellipse class="el" cx="296" cy="1061" rx="30" ry="11"/><text class="tb" x="296" y="1063.3">Control</text></g>
<g id="C-Affiliation"><ellipse class="el" cx="296" cy="1259" rx="30" ry="11"/><text class="tb" x="296" y="1261.3">Affiliation</text></g>
<g id="C-Dlabels">
<text class="dl" x="118" y="822.5">D<tspan font-size="4" dy="1.5">Steering</tspan></text>
<text class="dl" x="118" y="904.5">D<tspan font-size="4" dy="1.5">Friendly</tspan></text>
<text class="dl" x="115" y="991.5">D<tspan font-size="4" dy="1.5">Understanding</tspan></text>
<text class="dl" x="113" y="1090.5">D<tspan font-size="4" dy="1.5">Accommodating</tspan></text>
<text class="dl" x="122" y="1195.5">D<tspan font-size="4" dy="1.5">Uncertain</tspan></text>
<text class="dl" x="116" y="1282.5">D<tspan font-size="4" dy="1.5">Dissatisfied</tspan></text>
<text class="dl" x="114" y="1364.5">D<tspan font-size="4" dy="1.5">Reprimanding</tspan></text>
<text class="dl" x="121" y="1444.5">D<tspan font-size="4" dy="1.5">Enforcing</tspan></text>
</g>
<g id="C-flabels">
<text class="fb" x="105" y="835">f</text><text class="fb" x="105" y="918">f</text><text class="fb" x="105" y="996">f</text><text class="fb" x="193" y="930">f</text><text class="fb" x="226" y="930">f</text><text class="fb" x="105" y="1101">f</text><text class="fb" x="105" y="1203">f</text><text class="fb" x="105" y="1299">f</text><text class="fb" x="105" y="1375">f</text><text class="fb" x="105" y="1456">f</text>
</g>
<g id="C-title"><text class="ttl" x="291" y="865">C) M4</text><text class="ttl" x="291" y="893">Level 2</text></g>
</g>

<!-- Panel D nodes -->
<g id="panel-D">
<g id="D-r1" transform="translate(0,809)"><text class="td" x="496" y="2.9">E1</text><use href="#bD"/><text class="td" x="556.5" y="2.9">I1</text></g>
<g id="D-r9" transform="translate(0,832.5)"><text class="td" x="496" y="2.9">E9</text><use href="#bD"/><text class="td" x="556.5" y="2.9">I9</text></g>
<g id="D-r17" transform="translate(0,855.9)"><text class="td" x="496" y="2.9">E17</text><use href="#bD"/><text class="td" x="556.5" y="2.9">I17</text></g>
<g id="D-r33" transform="translate(0,879.4)"><text class="td" x="496" y="2.9">E33</text><use href="#bD"/><text class="td" x="556.5" y="2.9">I33</text></g>
<g id="D-r2" transform="translate(0,902.9)"><text class="td" x="496" y="2.9">E2</text><use href="#bD"/><text class="td" x="556.5" y="2.9">I2</text></g>
<g id="D-r18" transform="translate(0,926.4)"><text class="td" x="496" y="2.9">E18</text><use href="#bD"/><text class="td" x="556.5" y="2.9">I18</text></g>
<g id="D-r26" transform="translate(0,949.8)"><text class="td" x="496" y="2.9">E26</text><use href="#bD"/><text class="td" x="556.5" y="2.9">I26</text></g>
<g id="D-r3" transform="translate(0,973.3)"><text class="td" x="496" y="2.9">E3</text><use href="#bD"/><text class="td" x="556.5" y="2.9">I3</text></g>
<g id="D-r11" transform="translate(0,996.8)"><text class="td" x="496" y="2.9">E11</text><use href="#bD"/><text class="td" x="556.5" y="2.9">I11</text></g>
<g id="D-r27" transform="translate(0,1020.2)"><text class="td" x="496" y="2.9">E27</text><use href="#bD"/><text class="td" x="556.5" y="2.9">I27</text></g>
<g id="D-r35" transform="translate(0,1043.7)"><text class="td" x="496" y="2.9">E35</text><use href="#bD"/><text class="td" x="556.5" y="2.9">I35</text></g>
<g id="D-r43" transform="translate(0,1067.2)"><text class="td" x="496" y="2.9">E43</text><use href="#bD"/><text class="td" x="556.5" y="2.9">I43</text></g>
<g id="D-r4" transform="translate(0,1090.6)"><text class="td" x="496" y="2.9">E4</text><use href="#bD"/><text class="td" x="556.5" y="2.9">I4</text></g>
<g id="D-r20" transform="translate(0,1114.1)"><text class="td" x="496" y="2.9">E20</text><use href="#bD"/><text class="td" x="556.5" y="2.9">I20</text></g>
<g id="D-r28" transform="translate(0,1137.6)"><text class="td" x="496" y="2.9">E28</text><use href="#bD"/><text class="td" x="556.5" y="2.9">I28</text></g>
<g id="D-r44" transform="translate(0,1161.1)"><text class="td" x="496" y="2.9">E44</text><use href="#bD"/><text class="td" x="556.5" y="2.9">I44</text></g>
<g id="D-r5" transform="translate(0,1184.5)"><text class="td" x="496" y="2.9">E5</text><use href="#bD"/><text class="td" x="556.5" y="2.9">I5</text></g>
<g id="D-r13" transform="translate(0,1208)"><text class="td" x="496" y="2.9">E13</text><use href="#bD"/><text class="td" x="556.5" y="2.9">I13</text></g>
<g id="D-r21" transform="translate(0,1231.5)"><text class="td" x="496" y="2.9">E21</text><use href="#bD"/><text class="td" x="556.5" y="2.9">I21</text></g>
<g id="D-r29" transform="translate(0,1254.9)"><text class="td" x="496" y="2.9">E29</text><use href="#bD"/><text class="td" x="556.5" y="2.9">I29</text></g>
<g id="D-r45" transform="translate(0,1278.4)"><text class="td" x="496" y="2.9">E45</text><use href="#bD"/><text class="td" x="556.5" y="2.9">I45</text></g>
<g id="D-r22" transform="translate(0,1301.9)"><text class="td" x="496" y="2.9">E22</text><use href="#bD"/><text class="td" x="556.5" y="2.9">I22</text></g>
<g id="D-r38" transform="translate(0,1325.3)"><text class="td" x="496" y="2.9">E38</text><use href="#bD"/><text class="td" x="556.5" y="2.9">I38</text></g>
<g id="D-r46" transform="translate(0,1348.8)"><text class="td" x="496" y="2.9">E46</text><use href="#bD"/><text class="td" x="556.5" y="2.9">I46</text></g>
<g id="D-r7" transform="translate(0,1372.3)"><text class="td" x="496" y="2.9">E7</text><use href="#bD"/><text class="td" x="556.5" y="2.9">I7</text></g>
<g id="D-r31" transform="translate(0,1395.8)"><text class="td" x="496" y="2.9">E31</text><use href="#bD"/><text class="td" x="556.5" y="2.9">I31</text></g>
<g id="D-r39" transform="translate(0,1419.2)"><text class="td" x="496" y="2.9">E39</text><use href="#bD"/><text class="td" x="556.5" y="2.9">I39</text></g>
<g id="D-r47" transform="translate(0,1442.7)"><text class="td" x="496" y="2.9">E47</text><use href="#bD"/><text class="td" x="556.5" y="2.9">I47</text></g>
<g id="D-r8" transform="translate(0,1466.2)"><text class="td" x="496" y="2.9">E8</text><use href="#bD"/><text class="td" x="556.5" y="2.9">I8</text></g>
<g id="D-r32" transform="translate(0,1489.6)"><text class="td" x="496" y="2.9">E32</text><use href="#bD"/><text class="td" x="556.5" y="2.9">I32</text></g>
<g id="D-r48" transform="translate(0,1513.1)"><text class="td" x="496" y="2.9">E48</text><use href="#bD"/><text class="td" x="556.5" y="2.9">I48</text></g>
<g id="D-Steering"><rect class="bx" x="624" y="833" width="115" height="18"/><text class="fx" x="681.5" y="844.9">Contextual Steering</text></g>
<g id="D-Friendly"><rect class="bx" x="624" y="916" width="115" height="18"/><text class="fx" x="681.5" y="927.9">Contextual Friendly</text></g>
<g id="D-Understanding"><rect class="bx" x="624" y="1010" width="115" height="18"/><text class="fx" x="681.5" y="1021.9">Contextl Understanding</text></g>
<g id="D-Accommodating"><rect class="bx" x="624" y="1113" width="115" height="18"/><text class="fx" x="681.5" y="1124.9">Contextl Accommodating</text></g>
<g id="D-Uncertain"><rect class="bx" x="624" y="1222" width="115" height="18"/><text class="fx" x="681.5" y="1233.9">Contextual Uncertain</text></g>
<g id="D-Dissatisfied"><rect class="bx" x="624" y="1315" width="115" height="18"/><text class="fx" x="681.5" y="1326.9">Contextual Dissatisfied</text></g>
<g id="D-Reprimanding"><rect class="bx" x="624" y="1401" width="115" height="18"/><text class="fx" x="681.5" y="1412.9">Contextual Reprimanding</text></g>
<g id="D-Enforcing"><rect class="bx" x="624" y="1481" width="115" height="18"/><text class="fx" x="681.5" y="1492.9">Contextual Enforcing</text></g>
<g id="D-title"><text class="ttl" x="802" y="865">D) M5</text><text class="ttl" x="802" y="893">Level 2</text></g>
</g>
</svg>
